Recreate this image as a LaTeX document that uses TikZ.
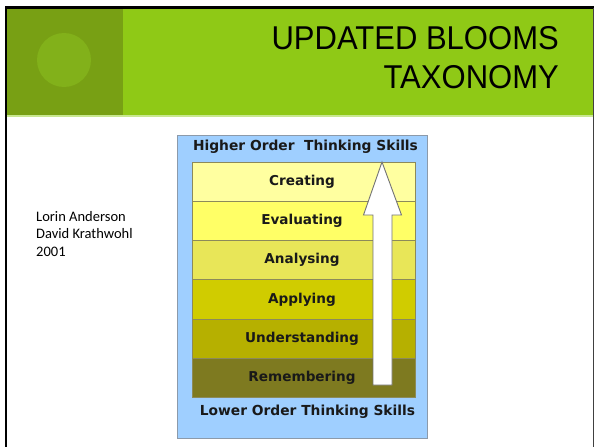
\documentclass[tikz,border=0pt]{standalone}
\usepackage{fontspec}
\setmainfont{Carlito}
\newfontfamily\titlefont[FakeStretch=0.94]{Liberation Sans}
\newfontfamily\boldsans{DejaVu Sans}
\definecolor{hdrgreen}{HTML}{8FC916}
\definecolor{darkgreen}{HTML}{78A014}
\definecolor{circgreen}{HTML}{82B11A}
\definecolor{lightline}{HTML}{C8E890}
\definecolor{skyblue}{HTML}{9FCFFF}
\definecolor{bluebord}{HTML}{8C9AAA}
\definecolor{bandbord}{HTML}{8C8A5A}
\definecolor{cCreate}{HTML}{FFFFA0}
\definecolor{cEval}{HTML}{FFFF66}
\definecolor{cAnal}{HTML}{E8E658}
\definecolor{cApply}{HTML}{D0CC00}
\definecolor{cUnder}{HTML}{B6B000}
\definecolor{cRemem}{HTML}{7E7A20}
\begin{document}
\begin{tikzpicture}[x=1pt,y=-1pt,
  band/.style={draw=bandbord, line width=0.9pt, minimum width=223pt, minimum height=39.3pt, inner sep=0pt,
    font=\boldsans\bfseries\fontsize{13.6}{16}\selectfont, text=black!90},
  skill/.style={font=\boldsans\bfseries\fontsize{13.8}{16}\selectfont, text=black!90, inner sep=0pt},
  author/.style={anchor=base west, inner sep=0pt, font=\fontsize{14.5}{17.5}\selectfont}]
\useasboundingbox (0,0) rectangle (594,447);
\fill[white] (0,0) rectangle (594,447);
% header
\fill[hdrgreen] (6,9) rectangle (593,115);
\fill[darkgreen] (6,9) rectangle (123,115);
\fill[circgreen] (64,60) circle (27);
\draw[lightline, line width=1.5pt] (6,116) -- (593,116);
% frame
\draw[black, line width=2.2pt] (5,7.5) -- (594,7.5);
\draw[black, line width=2.2pt] (6,7) -- (6,447);
\draw[black!75, line width=1pt] (593,8) -- (593,447);
% title
\node[anchor=base east, inner sep=0pt, font=\titlefont\fontsize{33}{39}\selectfont] (t1) at (559,49) {UPDATED BLOOMS};
\node[anchor=base east, inner sep=0pt, font=\titlefont\fontsize{33}{39}\selectfont] (t2) at (559,88) {TAXONOMY};
% left text
\node[author] (a1) at (36,221) {Lorin Anderson};
\node[author] (a2) at (36,238.5) {David Krathwohl};
\node[author] (a3) at (36,256) {2001};
% diagram
\draw[bluebord, fill=skyblue, line width=1pt] (177,135) rectangle (427,438);
\node[skill] (hots) at (305.5,146.5) {Higher Order\ \ Thinking Skills};
\node[band, fill=cCreate] (b1) at (303.5,181.6) {\hspace{-3pt}Creating};
\node[band, fill=cEval] (b2) at (303.5,220.9) {\hspace{-3pt}Evaluating};
\node[band, fill=cAnal] (b3) at (303.5,260.2) {\hspace{-3pt}Analysing};
\node[band, fill=cApply] (b4) at (303.5,299.5) {\hspace{-3pt}Applying};
\node[band, fill=cUnder] (b5) at (303.5,338.8) {\hspace{-3pt}Understanding};
\node[band, fill=cRemem] (b6) at (303.5,378.1) {\hspace{-3pt}Remembering};
\node[skill] (lots) at (307.5,411.5) {Lower Order Thinking Skills};
% block arrow
\draw[fill=white, draw=black!55, line width=0.9pt, line join=miter]
  (373,385) -- (373,215) -- (363.5,215) -- (382,162) -- (401.5,215) -- (392,215) -- (392,385) -- cycle;
\end{tikzpicture}
\end{document}
